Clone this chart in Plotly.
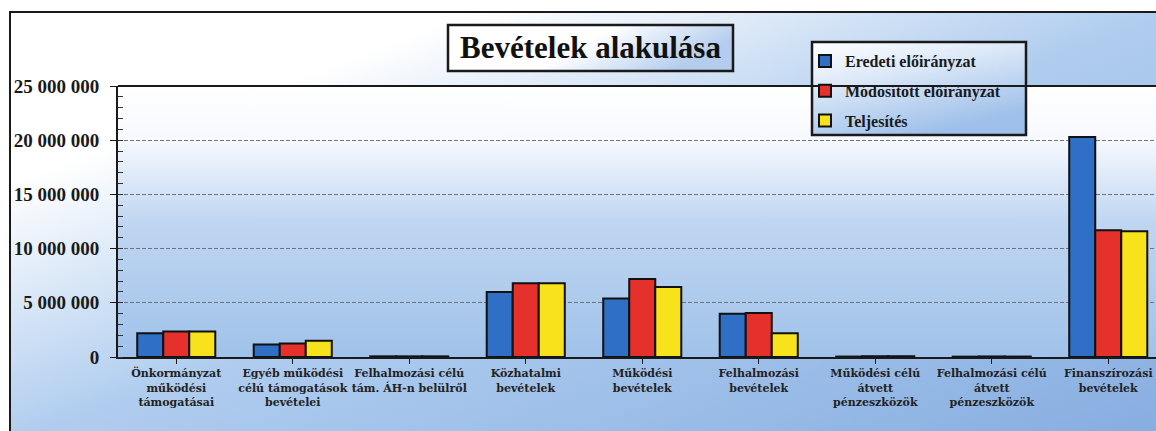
# Bevételek alakulása - grouped bar chart with gradient backgrounds
import base64
import plotly.graph_objects as go

# categories and values (Ft)
categories = [
    "Önkormányzat<br>működési<br>támogatásai",
    "Egyéb működési<br>célú támogatások<br>bevételei",
    "Felhalmozási célú<br>tám. ÁH-n belülről",
    "Közhatalmi<br>bevételek",
    "Működési<br>bevételek",
    "Felhalmozási<br>bevételek",
    "Működési célú<br>átvett<br>pénzeszközök",
    "Felhalmozási célú<br>átvett<br>pénzeszközök",
    "Finanszírozási<br>bevételek",
]
eredeti = [2200000, 1150000, 60000, 6000000, 5400000, 4000000, 40000, 30000, 20300000]
modositott = [2350000, 1250000, 60000, 6800000, 7200000, 4050000, 70000, 50000, 11700000]
teljesites = [2350000, 1500000, 60000, 6800000, 6450000, 2200000, 70000, 40000, 11600000]

series_names = ["Eredeti előirányzat", "Módosított előirányzat", "Teljesítés"]
y_ticks = [0, 5000000, 10000000, 15000000, 20000000, 25000000]

W, H = 1156, 431
# plot area in pixels
L, R, T, B = 118, 1156, 86, 357
CAT_W = 116.5


def px(x):
    return (x - L) / (R - L)


def py(y):
    return (B - y) / (B - T)


def svg_gradient(stops, x2=0, y2=1):
    st = "".join(f'<stop offset="{o}" stop-color="{c}"/>' for o, c in stops)
    svg = (f'<svg xmlns="http://www.w3.org/2000/svg" width="100" height="100" preserveAspectRatio="none">'
           f'<defs><linearGradient id="g" x1="0" y1="0" x2="{x2}" y2="{y2}">{st}</linearGradient></defs>'
           f'<rect width="100" height="100" fill="url(#g)"/></svg>')
    return "data:image/svg+xml;base64," + base64.b64encode(svg.encode()).decode()


def bg_image(src, x0, y0, x1, y1, layer="below"):
    return dict(source=src, xref="paper", yref="paper", x=px(x0), y=py(y0),
                sizex=px(x1) - px(x0), sizey=py(y0) - py(y1),
                xanchor="left", yanchor="top", sizing="stretch", layer=layer)


colors = ["#2f6fc6", "#e6302b", "#f7e21c"]
serif = "Liberation Serif, Times New Roman, serif"

fig = go.Figure()
for i, (name, vals) in enumerate(zip(series_names, [eredeti, modositott, teljesites])):
    fig.add_trace(go.Bar(
        x=list(range(len(categories))), y=vals, name=name,
        marker=dict(color=colors[i], line=dict(color="#111", width=2)),
        legendgroup=name,
    ))

images = [
    # outer chart area
    bg_image(svg_gradient([(0, "#ffffff"), (0.2, "#ffffff"), (0.5, "#b0cdef"), (1, "#86ade0")], 1, 1),
             10, 12, 1170, 440),
    # plot area
    bg_image(svg_gradient([(0, "#ffffff"), (0.2, "#f6f9fe"), (0.5, "#c0d6f1"), (1, "#a0c2ea")]),
             118, 86, 1170, 357),
    # title box
    bg_image(svg_gradient([(0, "#ffffff"), (0.55, "#ffffff"), (1, "#b4cdee")], 1, 0.3),
             448, 25, 733, 71),
    # legend box
    bg_image(svg_gradient([(0, "#ffffff"), (0.4, "#dde9f8"), (1, "#9fc0ea")], 0.5, 1),
             812, 42, 1026, 135, layer="above"),
]

shapes = [
    dict(type="rect", xref="paper", yref="paper", x0=px(10), x1=px(1175), y0=py(12), y1=py(445),
         line=dict(color="#1a1a1a", width=2), layer="below"),
    dict(type="line", xref="paper", yref="paper", x0=0, x1=px(1175), y0=1, y1=1,
         line=dict(color="#1a1a1a", width=2)),
    dict(type="rect", xref="paper", yref="paper", x0=px(448), x1=px(733), y0=py(25), y1=py(71),
         line=dict(color="#1a1a1a", width=2.5)),
    dict(type="rect", xref="paper", yref="paper", x0=px(812), x1=px(1026), y0=py(42), y1=py(135),
         line=dict(color="#1a1a1a", width=2.5)),
]

fig.update_layout(
    width=W, height=H, autosize=False,
    margin=dict(l=L, r=W - R, t=T, b=H - B, pad=0),
    paper_bgcolor="white", plot_bgcolor="rgba(0,0,0,0)",
    separators=", ",
    barmode="group", bargap=0.33, bargroupgap=0,
    images=images, shapes=shapes,
    showlegend=True,
    legend=dict(x=px(805), y=py(44), xanchor="left", yanchor="top",
                bgcolor="rgba(0,0,0,0)", borderwidth=0, tracegroupgap=6,
                font=dict(family=serif, size=16, color="#1a1a1a", weight="bold")),
    annotations=[dict(text="Bevételek alakulása", xref="paper", yref="paper",
                      x=px(590), y=py(48), showarrow=False, xanchor="center", yanchor="middle",
                      font=dict(family=serif, size=31, color="#111", weight="bold"))],
    font=dict(family=serif, color="#1a1a1a"),
)

fig.update_xaxes(
    tickvals=list(range(len(categories))), ticktext=categories,
    range=[-0.5, -0.5 + (R - L) / CAT_W],
    showline=True, linecolor="#1a1a1a", linewidth=2,
    ticks="outside", tickson="boundaries", ticklen=5, tickcolor="#1a1a1a",
    showgrid=False, zeroline=False, ticklabeloverflow="allow",
    tickfont=dict(family="DejaVu Serif, serif", size=11, color="#222", weight="bold"),
)
fig.update_yaxes(
    range=[0, 25000000], tickvals=y_ticks, tickformat=",d",
    showline=True, linecolor="#1a1a1a", linewidth=2,
    ticks="outside", ticklen=6, tickcolor="#1a1a1a", ticklabelstandoff=7,
    showgrid=True, gridcolor="#6b7480", gridwidth=1, griddash="4px,2px",
    minor=dict(dtick=1000000, ticks="inside", ticklen=5, tickcolor="#333", showgrid=False),
    zeroline=False,
    tickfont=dict(family=serif, size=19, color="#1a1a1a", weight="bold"),
)

# drop the default body margin so the figure fills the window without scrollbars
fig.write_html("out.html", config={"displayModeBar": False},
               post_script="document.body.style.margin='0';"
               "document.documentElement.style.overflow='hidden';")
